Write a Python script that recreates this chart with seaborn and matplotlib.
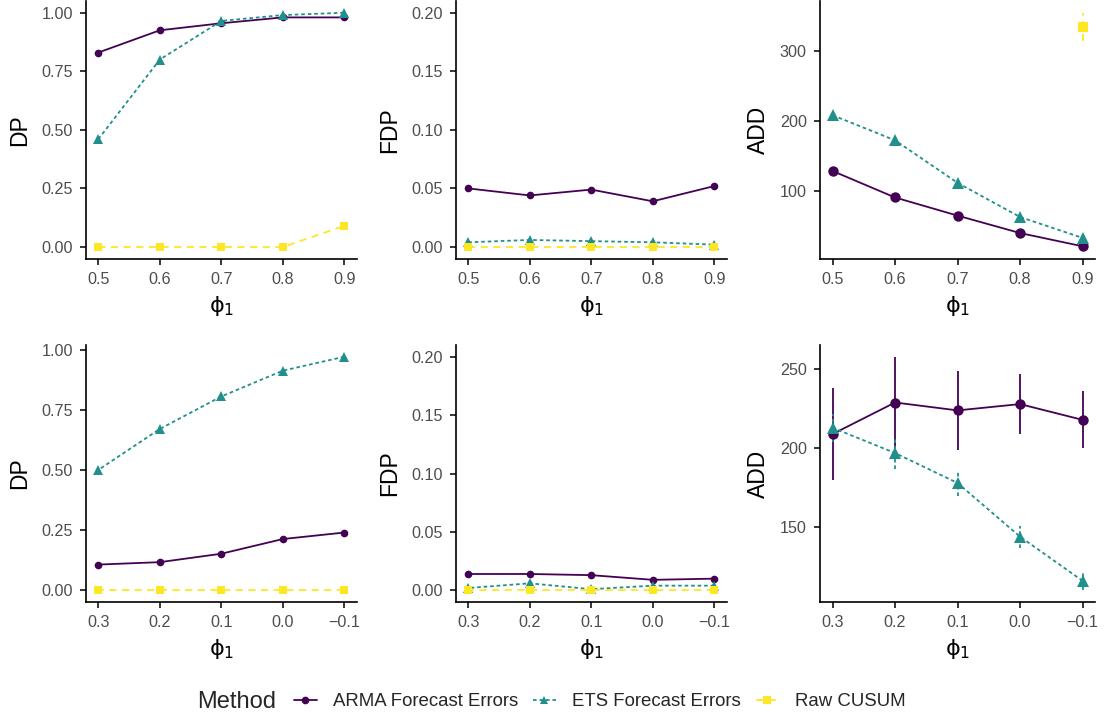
import numpy as np
import pandas as pd
import matplotlib
matplotlib.use('Agg')
import matplotlib.pyplot as plt
from matplotlib.lines import Line2D
from matplotlib.ticker import FormatStrFormatter
import seaborn as sns

# Methods and styling
methods = ['ARMA Forecast Errors', 'ETS Forecast Errors', 'Raw CUSUM']
colors = {'ARMA Forecast Errors': '#440154', 'ETS Forecast Errors': '#21908C', 'Raw CUSUM': '#FDE725'}
markers = {'ARMA Forecast Errors': 'o', 'ETS Forecast Errors': '^', 'Raw CUSUM': 's'}
dashes = {'ARMA Forecast Errors': '', 'ETS Forecast Errors': (2, 1.6), 'Raw CUSUM': (4, 3)}

# x values
phi_top = [0.5, 0.6, 0.7, 0.8, 0.9]
phi_bottom = [0.3, 0.2, 0.1, 0.0, -0.1]
phi_top_labels = ['0.5', '0.6', '0.7', '0.8', '0.9']
phi_bottom_labels = ['0.3', '0.2', '0.1', '0.0', '\u22120.1']

# Top row: detection proportion
dp_top_arma = [0.83, 0.925, 0.955, 0.98, 0.98]
dp_top_ets = [0.46, 0.80, 0.965, 0.99, 1.00]
dp_top_raw = [0.0, 0.0, 0.0, 0.0, 0.09]

# Top row: false detection proportion
fdp_top_arma = [0.050, 0.044, 0.049, 0.039, 0.052]
fdp_top_ets = [0.004, 0.006, 0.005, 0.004, 0.002]
fdp_top_raw = [0.0, 0.0, 0.0, 0.0, 0.0]

# Top row: average detection delay (+ spread)
add_top_arma = [128, 90, 64, 39, 20]
add_top_ets = [208, 172, 111, 62, 32]
add_top_raw = [np.nan, np.nan, np.nan, np.nan, 335]
add_top_arma_sd = [4, 3, 2, 2, 1]
add_top_ets_sd = [8, 5, 3, 3, 2]
add_top_raw_sd = [np.nan, np.nan, np.nan, np.nan, 20]

# Bottom row: detection proportion
dp_bot_arma = [0.107, 0.117, 0.152, 0.213, 0.240]
dp_bot_ets = [0.50, 0.67, 0.805, 0.912, 0.97]
dp_bot_raw = [0.0, 0.0, 0.0, 0.0, 0.0]

# Bottom row: false detection proportion
fdp_bot_arma = [0.014, 0.014, 0.013, 0.009, 0.010]
fdp_bot_ets = [0.002, 0.006, 0.001, 0.004, 0.004]
fdp_bot_raw = [0.0, 0.0, 0.0, 0.0, 0.0]

# Bottom row: average detection delay (+ spread)
add_bot_arma = [209, 229, 224, 228, 218]
add_bot_ets = [213, 197, 178, 144, 116]
add_bot_raw = [np.nan, np.nan, np.nan, np.nan, np.nan]
add_bot_arma_sd = [29, 29, 25, 19, 18]
add_bot_ets_sd = [9, 10, 8, 7, 6]
add_bot_raw_sd = [np.nan, np.nan, np.nan, np.nan, np.nan]

sns.set_style('ticks')
plt.rcParams['font.family'] = ['Liberation Sans', 'DejaVu Sans']
plt.rcParams['axes.unicode_minus'] = True
plt.rcParams['mathtext.fontset'] = 'custom'
plt.rcParams['mathtext.rm'] = 'DejaVu Sans'
plt.rcParams['mathtext.it'] = 'DejaVu Sans'

TICK_COLOR = '#4D4D4D'
LW = 1.3


def draw_panel(ax, phi, arma, ets, raw, ms):
    df = pd.DataFrame({
        'phi': list(phi) * 3,
        'value': list(arma) + list(ets) + list(raw),
        'Method': np.repeat(methods, len(phi)),
    }).dropna()
    sns.lineplot(data=df, x='phi', y='value', hue='Method', style='Method',
                 hue_order=methods, style_order=methods, palette=colors,
                 markers=markers, dashes=dashes, markersize=ms,
                 markeredgewidth=0, linewidth=LW, errorbar=None,
                 legend=False, ax=ax)
    # triangles look a bit bigger in the original
    for ln in ax.lines:
        if ln.get_marker() == '^':
            ln.set_markersize(ms * 1.2)


def add_errorbars(ax, phi, vals, sd, method):
    eb = ax.errorbar(phi, vals, yerr=sd, fmt='none', ecolor=colors[method],
                     elinewidth=LW, capsize=0, zorder=1)
    if dashes[method]:
        eb[2][0].set_linestyle((0, dashes[method]))


def style_axes(ax, ylabel, xticks, xlabels, yticks, yfmt):
    sns.despine(ax=ax)
    for s in ['left', 'bottom']:
        ax.spines[s].set_linewidth(1.2)
        ax.spines[s].set_color('black')
    ax.set_xticks(xticks)
    ax.set_xticklabels(xlabels)
    ax.set_yticks(yticks)
    ax.yaxis.set_major_formatter(FormatStrFormatter(yfmt))
    ax.tick_params(axis='both', length=4.5, width=1.1, color='black',
                   labelsize=11.6, labelcolor=TICK_COLOR, pad=5)
    ax.set_ylabel(ylabel, fontsize=16.5, labelpad=7, color='black')
    ax.set_xlabel(r'$\mathrm{\phi}_1$', fontsize=16, labelpad=5, color='black')


fig = plt.figure(figsize=(11.04, 7.19), dpi=100)

col_left = [0.0779, 0.4130, 0.7428]
col_width = [0.2451, 0.2451, 0.2491]
row_bottom = [0.6402, 0.1627]
row_height = [0.3584, 0.3574]

axes = [[fig.add_axes([col_left[c], row_bottom[r], col_width[c], row_height[r]])
         for c in range(3)] for r in range(2)]

dp_ticks = [0, 0.25, 0.5, 0.75, 1.0]
fdp_ticks = [0, 0.05, 0.10, 0.15, 0.20]

# ---- top row ----
ax = axes[0][0]
draw_panel(ax, phi_top, dp_top_arma, dp_top_ets, dp_top_raw, ms=5.5)
style_axes(ax, 'DP', phi_top, phi_top_labels, dp_ticks, '%.2f')

ax = axes[0][1]
draw_panel(ax, phi_top, fdp_top_arma, fdp_top_ets, fdp_top_raw, ms=5.5)
style_axes(ax, 'FDP', phi_top, phi_top_labels, fdp_ticks, '%.2f')
ax.set_ylim(-0.01, 0.21)

ax = axes[0][2]
add_errorbars(ax, phi_top, add_top_arma, add_top_arma_sd, methods[0])
add_errorbars(ax, phi_top, add_top_ets, add_top_ets_sd, methods[1])
add_errorbars(ax, phi_top, add_top_raw, add_top_raw_sd, methods[2])
draw_panel(ax, phi_top, add_top_arma, add_top_ets, add_top_raw, ms=7.5)
style_axes(ax, 'ADD', phi_top, phi_top_labels, [100, 200, 300], '%d')

# ---- bottom row ----
ax = axes[1][0]
draw_panel(ax, phi_bottom, dp_bot_arma, dp_bot_ets, dp_bot_raw, ms=5.5)
style_axes(ax, 'DP', phi_bottom, phi_bottom_labels, dp_ticks, '%.2f')

ax = axes[1][1]
draw_panel(ax, phi_bottom, fdp_bot_arma, fdp_bot_ets, fdp_bot_raw, ms=5.5)
style_axes(ax, 'FDP', phi_bottom, phi_bottom_labels, fdp_ticks, '%.2f')
ax.set_ylim(-0.01, 0.21)

ax = axes[1][2]
add_errorbars(ax, phi_bottom, add_bot_arma, add_bot_arma_sd, methods[0])
add_errorbars(ax, phi_bottom, add_bot_ets, add_bot_ets_sd, methods[1])
draw_panel(ax, phi_bottom, add_bot_arma, add_bot_ets, add_bot_raw, ms=7.5)
style_axes(ax, 'ADD', phi_bottom, phi_bottom_labels, [150, 200, 250], '%d')

for ax in axes[1]:
    ax.set_xlim(0.32, -0.12)
for ax in axes[0]:
    ax.set_xlim(0.48, 0.92)

# ---- shared legend ----
handles = []
for m in methods:
    kw = dict(color=colors[m], marker=markers[m], lw=LW, markersize=5.5, markeredgewidth=0)
    if dashes[m]:
        kw['dashes'] = dashes[m]
    handles.append(Line2D([0], [0], **kw))
fig.legend(handles, methods, loc='center', bbox_to_anchor=(0.543, 0.024), ncol=3,
           frameon=False, fontsize=13.4, handlelength=1.24, handletextpad=0.86,
           columnspacing=0.8)
fig.text(0.25, 0.024, 'Method', ha='right', va='center', fontsize=17)

fig.savefig('out.png', dpi=100)
